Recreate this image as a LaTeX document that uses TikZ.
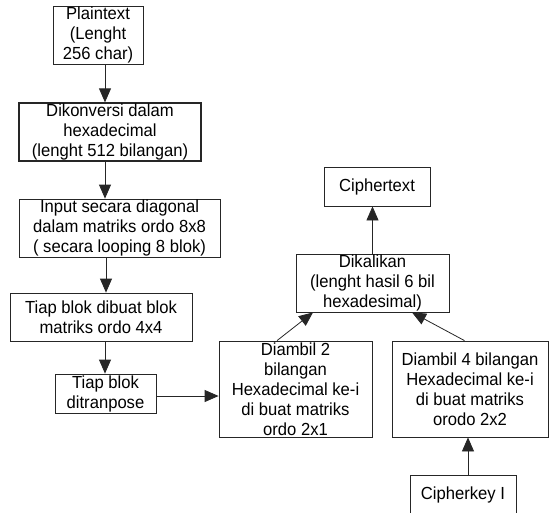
\documentclass[tikz,border=0pt]{standalone}
\usepackage{fontspec}
\setmainfont{Liberation Sans}[FakeStretch=0.95]
\usetikzlibrary{arrows.meta}
\begin{document}
\begin{tikzpicture}[x=1pt,y=-1pt,
  box/.style={draw=black!85,line width=0.8pt,fill=white,align=center,
    inner sep=0pt,font=\fontsize{17.5}{20}\selectfont},
  arr/.style={draw=black!85,line width=0.8pt,-{Triangle[length=14pt,width=12pt]}}]
\useasboundingbox (0,0) rectangle (549,512);
% left column
\node[box,minimum width=90,minimum height=58] (plain) at (98,35) {Plaintext\\(Lenght\\256 char)};
\node[box,line width=1.3pt,minimum width=182,minimum height=58] (dikon) at (110,132) {Dikonversi dalam\\hexadecimal\\(lenght 512 bilangan)};
\node[box,minimum width=201,minimum height=58] (input) at (119.5,228) {Input secara diagonal\\dalam matriks ordo 8x8\\( secara looping 8 blok)};
\node[box,minimum width=182,minimum height=48] (tiap) at (101,317) {Tiap blok dibuat blok\\matriks ordo 4x4};
\node[box,minimum width=101,minimum height=39] (trans) at (105.5,393.5) {Tiap blok\\ditranpose};
% right part
\node[box,minimum width=153,minimum height=96] (d2) at (295.5,389) {Diambil 2\\bilangan\\Hexadecimal ke-i\\di buat matriks\\ordo 2x1};
\node[box,minimum width=156,minimum height=96] (d4) at (470,389) {Diambil 4 bilangan\\Hexadecimal ke-i\\di buat matriks\\orodo 2x2};
\node[box,minimum width=106,minimum height=40] (key) at (463,495) {Cipherkey I};
\node[box,minimum width=106,minimum height=39] (ctext) at (377,186.5) {Ciphertext};
\node[box,minimum width=153,minimum height=58] (kali) at (372.5,283) {Dikalikan\\(lenght hasil 6 bil\\hexadesimal)};
% connectors
\coordinate (ax) at (105,0);
\draw[arr] (plain.south -| ax) -- (dikon.north -| ax);
\draw[arr] (dikon.south -| ax) -- (input.north -| ax);
\draw[arr] ([xshift=1pt]input.south -| ax) -- ([xshift=1pt]tiap.north -| ax);
\draw[arr] (tiap.south -| ax) -- (trans.north -| ax);
\draw[arr] ([yshift=-2.5pt]trans.east) -- ([yshift=-2.5pt]trans.east -| d2.west);
\draw[arr] ([xshift=-18.5pt]d2.north) -- ([xshift=-59.5pt]kali.south);
\draw[arr] ([xshift=-5.5pt]d4.north) -- ([xshift=39.5pt]kali.south);
\draw[arr] (kali.north) -- (kali.north |- ctext.south);
\draw[arr] ([xshift=5pt]key.north) -- ([xshift=5pt]key.north |- d4.south);
\end{tikzpicture}
\end{document}
